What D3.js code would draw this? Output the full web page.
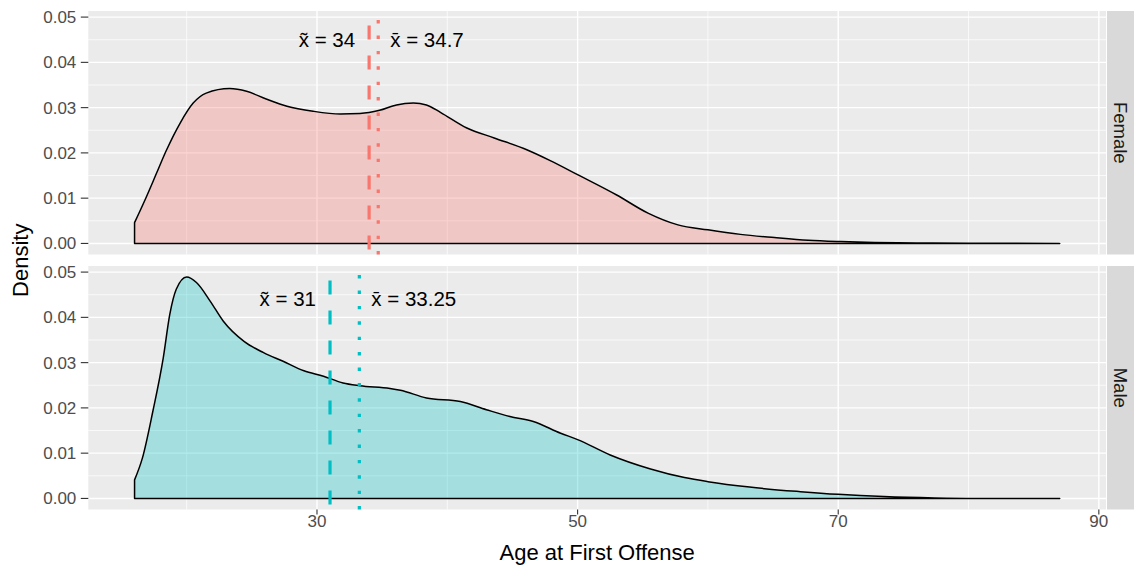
<!DOCTYPE html>
<html>
<head>
<meta charset="utf-8">
<script src="https://cdn.jsdelivr.net/npm/d3@7"></script>
<style>
  html, body { margin: 0; padding: 0; background: #ffffff; }
  svg { display: block; font-family: "Liberation Sans", Arial, sans-serif; }
</style>
</head>
<body>
<svg id="chart" width="1135" height="565"></svg>
<script>
// ---- data ----
const groups = ["Female", "Male"];
const groupColors = ["#F8766D", "#00BFC4"];

const femaleAge = [16, 16.8, 17.7, 18.4, 19.5, 20.5, 21.5, 23.3, 24.6, 26.1, 27.7, 29.7, 31.8, 33.3, 34.8, 36.1, 37.4, 38.4, 39.5, 41.5, 43.6, 46.1, 47.9, 50, 53, 55.4, 57.7, 60, 62.5, 65.1, 67.7, 70.2, 72.8, 76, 80, 87];
const femaleDensity = [0.0046, 0.0096, 0.0156, 0.0203, 0.0266, 0.0310, 0.0332, 0.0342, 0.0336, 0.0319, 0.0303, 0.0292, 0.0286, 0.0287, 0.0294, 0.0306, 0.0310, 0.0306, 0.0289, 0.0255, 0.0233, 0.0207, 0.0183, 0.0152, 0.0107, 0.0067, 0.0041, 0.0030, 0.0020, 0.0013, 0.0007, 0.0004, 0.0002, 0.0001, 0.00004, 0];

const maleAge = [16, 16.6, 17.4, 18.2, 18.7, 19.2, 20, 20.75, 21.8, 22.8, 24.4, 25.9, 27.4, 29, 30.5, 32, 33.3, 35.6, 36.4, 38.4, 41, 43, 44.8, 46.6, 48.7, 50, 52.5, 55.6, 58.2, 60, 63.2, 67.1, 70, 73.5, 77.4, 80.5, 87];
const maleDensity = [0.0041, 0.0089, 0.0192, 0.0310, 0.0406, 0.0462, 0.0489, 0.0477, 0.0436, 0.0392, 0.0347, 0.0322, 0.0303, 0.0282, 0.0270, 0.0255, 0.0249, 0.0243, 0.0239, 0.0222, 0.0214, 0.0196, 0.0181, 0.0170, 0.0144, 0.0130, 0.0096, 0.0065, 0.0046, 0.0037, 0.0025, 0.0015, 0.0009, 0.0004, 0.0001, 0, 0];

const medians = [34, 31];
const means = [34.7, 33.25];
const medianLabels = ["34", "31"];
const meanLabels = ["34.7", "33.25"];
const labelY = [0.045, 0.0441];

const xTicks = [30, 50, 70, 90];
const xMinor = [20, 40, 60, 80];
const yTicks = [0, 0.01, 0.02, 0.03, 0.04, 0.05];
const yMinor = [0.005, 0.015, 0.025, 0.035, 0.045];

const xTitle = "Age at First Offense";
const yTitle = "Density";

// ---- layout ----
const svg = d3.select("#chart");
const panelLeft = 88.3, panelRight = 1106;
const panelTops = [11, 266];
const panelH = 243.5;
const stripX = 1107, stripW = 27;

const allAges = femaleAge.concat(maleAge);
const xMin = d3.min(allAges), xMax = d3.max(allAges);
const xPad = (xMax - xMin) * 0.05;
const x = d3.scaleLinear().domain([xMin - xPad, xMax + xPad]).range([panelLeft, panelRight]);

const yMaxData = d3.max(femaleDensity.concat(maleDensity));
const yPad = yMaxData * 0.05;

const series = [
  femaleAge.map((a, i) => [a, femaleDensity[i]]),
  maleAge.map((a, i) => [a, maleDensity[i]])
];

groups.forEach((g, gi) => {
  const top = panelTops[gi];
  const y = d3.scaleLinear().domain([-yPad, yMaxData + yPad]).range([top + panelH, top]);
  const gp = svg.append("g");

  // panel background
  gp.append("rect").attr("x", panelLeft).attr("y", top)
    .attr("width", panelRight - panelLeft).attr("height", panelH).attr("fill", "#EBEBEB");

  // minor grid
  gp.selectAll(".ym").data(yMinor).enter().append("line")
    .attr("x1", panelLeft).attr("x2", panelRight)
    .attr("y1", d => y(d)).attr("y2", d => y(d))
    .attr("stroke", "#ffffff").attr("stroke-width", 0.7);
  gp.selectAll(".xm").data(xMinor).enter().append("line")
    .attr("y1", top).attr("y2", top + panelH)
    .attr("x1", d => x(d)).attr("x2", d => x(d))
    .attr("stroke", "#ffffff").attr("stroke-width", 0.7);
  // major grid
  gp.selectAll(".yM").data(yTicks).enter().append("line")
    .attr("x1", panelLeft).attr("x2", panelRight)
    .attr("y1", d => y(d)).attr("y2", d => y(d))
    .attr("stroke", "#ffffff").attr("stroke-width", 1.4);
  gp.selectAll(".xM").data(xTicks).enter().append("line")
    .attr("y1", top).attr("y2", top + panelH)
    .attr("x1", d => x(d)).attr("x2", d => x(d))
    .attr("stroke", "#ffffff").attr("stroke-width", 1.4);

  // density area (full outline)
  const pts = series[gi];
  const area = d3.area().x(d => x(d[0])).y0(y(0)).y1(d => y(d[1])).curve(d3.curveMonotoneX);
  gp.append("path").datum(pts).attr("d", area)
    .attr("fill", groupColors[gi]).attr("fill-opacity", 0.3).attr("stroke", "none");
  const line = d3.line().x(d => x(d[0])).y(d => y(d[1])).curve(d3.curveMonotoneX);
  const first = pts[0], last = pts[pts.length - 1];
  const outline = "M" + x(first[0]) + "," + y(0) + "L" + line(pts).slice(1) + "L" + x(last[0]) + "," + y(0) + "Z";
  gp.append("path").attr("d", outline)
    .attr("fill", "none").attr("stroke", "#000000").attr("stroke-width", 1.5).attr("stroke-linejoin", "round");

  // median / mean lines
  gp.append("line")
    .attr("x1", x(medians[gi])).attr("x2", x(medians[gi]))
    .attr("y1", top + panelH).attr("y2", top)
    .attr("stroke", groupColors[gi]).attr("stroke-width", 3.2)
    .attr("stroke-dasharray", "14,16").attr("stroke-dashoffset", 25);
  gp.append("line")
    .attr("x1", x(means[gi])).attr("x2", x(means[gi]))
    .attr("y1", top + panelH).attr("y2", top)
    .attr("stroke", groupColors[gi]).attr("stroke-width", 3.2)
    .attr("stroke-dasharray", "3.4,12");

  // annotations
  const ly = y(labelY[gi]) + 7.3;
  gp.append("text").attr("x", x(medians[gi]) - 14).attr("y", ly)
    .attr("text-anchor", "end").attr("font-size", 20.5).attr("fill", "#000")
    .text("x\u0303 = " + medianLabels[gi]);
  gp.append("text").attr("x", x(means[gi]) + 12).attr("y", ly)
    .attr("text-anchor", "start").attr("font-size", 20.5).attr("fill", "#000")
    .text("x\u0304 = " + meanLabels[gi]);

  // y axis ticks + labels
  gp.selectAll(".yt").data(yTicks).enter().append("line")
    .attr("x1", panelLeft - 7.5).attr("x2", panelLeft)
    .attr("y1", d => y(d)).attr("y2", d => y(d))
    .attr("stroke", "#333333").attr("stroke-width", 1.1);
  gp.selectAll(".yl").data(yTicks).enter().append("text")
    .attr("x", panelLeft - 12).attr("y", d => y(d) + 6)
    .attr("text-anchor", "end").attr("font-size", 17).attr("fill", "#4D4D4D")
    .text(d => d3.format(".2f")(d));

  // strip
  gp.append("rect").attr("x", stripX).attr("y", top).attr("width", stripW).attr("height", panelH)
    .attr("fill", "#D9D9D9");
  gp.append("text")
    .attr("transform", `translate(${stripX + stripW / 2 - 6.5},${top + panelH / 2}) rotate(90)`)
    .attr("text-anchor", "middle").attr("font-size", 18.5).attr("fill", "#1A1A1A")
    .text(g);
});

// x axis
const bottom = panelTops[1] + panelH;
svg.selectAll(".xt").data(xTicks).enter().append("line")
  .attr("x1", d => x(d)).attr("x2", d => x(d))
  .attr("y1", bottom).attr("y2", bottom + 5)
  .attr("stroke", "#333333").attr("stroke-width", 1.1);
svg.selectAll(".xl").data(xTicks).enter().append("text")
  .attr("x", d => x(d)).attr("y", bottom + 17)
  .attr("text-anchor", "middle").attr("font-size", 17).attr("fill", "#4D4D4D")
  .text(d => d);

svg.append("text").attr("x", (panelLeft + panelRight) / 2).attr("y", 560)
  .attr("text-anchor", "middle").attr("font-size", 22).attr("fill", "#000")
  .text(xTitle);
svg.append("text")
  .attr("transform", `translate(28,${(panelTops[0] + bottom) / 2}) rotate(-90)`)
  .attr("text-anchor", "middle").attr("font-size", 22).attr("fill", "#000")
  .text(yTitle);
</script>
</body>
</html>
